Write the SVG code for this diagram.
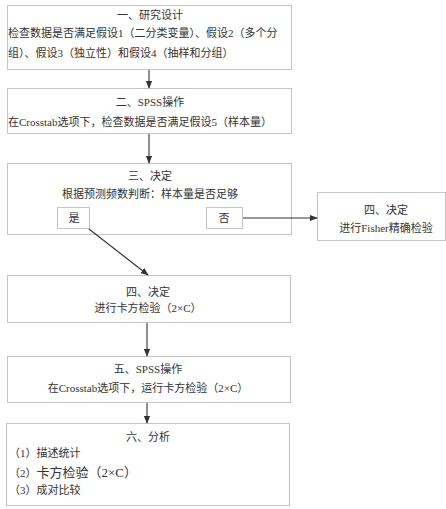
<svg xmlns="http://www.w3.org/2000/svg" width="446" height="509" viewBox="0 0 446 509">
<style>
.box{fill:#fff;stroke:#c4c4c4;stroke-width:1}
.t{font-family:"Liberation Serif","Noto Sans CJK SC",serif;font-size:11px;fill:#333}
.c{text-anchor:middle}
.ln{stroke:#333;stroke-width:1.1;fill:none}
</style>
<defs>
<marker id="ah" viewBox="0 0 10 10" refX="9" refY="5" markerWidth="8" markerHeight="8" markerUnits="userSpaceOnUse" orient="auto">
<path d="M0,1 L10,5 L0,9 Z" fill="#333"/>
</marker>
</defs>
<rect width="446" height="509" fill="#fff"/>
<g id="n1">
<rect class="box" x="7.5" y="5.5" width="284" height="64"/>
<text class="t c" x="150" y="19">一、研究设计</text>
<text class="t" x="8" y="37">检查数据是否满足假设1（二分类变量）、假设2（多个分</text>
<text class="t" x="8" y="57">组）、假设3（独立性）和假设4（抽样和分组）</text>
</g>
<g id="n2">
<rect class="box" x="7.5" y="88.5" width="284" height="45"/>
<text class="t c" x="150" y="106">二、SPSS操作</text>
<text class="t" x="8" y="126">在Crosstab选项下，检查数据是否满足假设5（样本量）</text>
</g>
<g id="n3">
<rect class="box" x="7.5" y="163.5" width="284" height="71"/>
<text class="t c" x="150" y="180">三、决定</text>
<text class="t c" x="150" y="198">根据预测频数判断：样本量是否足够</text>
</g>
<g id="yes">
<rect class="box" x="57.5" y="207.5" width="32" height="21"/>
<text class="t c" x="74" y="222">是</text>
</g>
<g id="no">
<rect class="box" x="206.5" y="207.5" width="36" height="21"/>
<text class="t c" x="224" y="222">否</text>
</g>
<g id="n4b">
<rect class="box" x="317.5" y="192.5" width="128" height="48"/>
<text class="t c" x="386" y="214">四、决定</text>
<text class="t c" x="386" y="232">进行Fisher精确检验</text>
</g>
<g id="n4">
<rect class="box" x="7.5" y="275.5" width="283" height="47"/>
<text class="t c" x="148" y="296">四、决定</text>
<text class="t c" x="148" y="312">进行卡方检验（2×C）</text>
</g>
<g id="n5">
<rect class="box" x="7.5" y="356.5" width="283" height="46"/>
<text class="t c" x="148" y="373">五、SPSS操作</text>
<text class="t c" x="148" y="392">在Crosstab选项下，运行卡方检验（2×C）</text>
</g>
<g id="n6">
<rect class="box" x="6.5" y="423.5" width="283" height="82"/>
<text class="t c" x="148" y="441">六、分析</text>
<text class="t" x="9" y="457">（1）描述统计</text>
<text class="t" x="9" y="477"><tspan>（2）</tspan><tspan font-size="13">卡方检验（2×C）</tspan></text>
<text class="t" x="9" y="494">（3）成对比较</text>
</g>
<g id="connectors">
<line class="ln" x1="149" y1="70" x2="149" y2="88" marker-end="url(#ah)"/>
<line class="ln" x1="149" y1="134" x2="149" y2="163" marker-end="url(#ah)"/>
<line class="ln" x1="243" y1="218" x2="317" y2="218" marker-end="url(#ah)"/>
<line class="ln" x1="89" y1="229" x2="148" y2="275" marker-end="url(#ah)"/>
<line class="ln" x1="147" y1="323" x2="147" y2="356" marker-end="url(#ah)"/>
<line class="ln" x1="147" y1="403" x2="147" y2="423" marker-end="url(#ah)"/>
</g>
</svg>
